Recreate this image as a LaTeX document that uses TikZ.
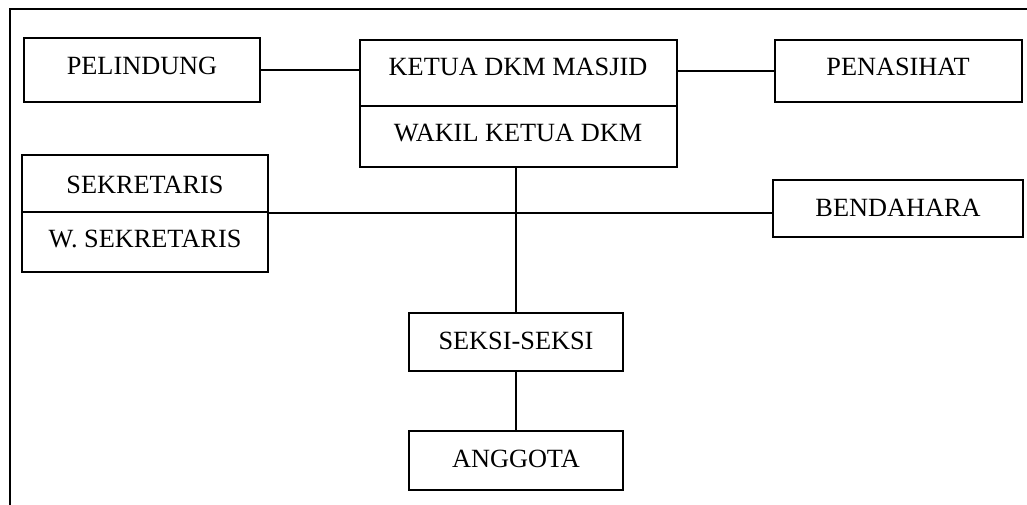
\documentclass[tikz,border=0pt]{standalone}
\usepackage{fontspec}
\setmainfont{Liberation Serif}
\begin{document}
\begin{tikzpicture}[x=1pt,y=-1pt,
  box/.style={draw=black,line width=2pt,rectangle,inner sep=0pt},
  lbl/.style={anchor=base,inner sep=0pt,font=\fontsize{26.3}{30}\selectfont},
  conn/.style={draw=black,line width=1.7pt}]
\useasboundingbox (0,0) rectangle (1027,505);
% frame
\coordinate (fb) at (9.5,505);
\coordinate (fc) at (9.5,9.5);
\coordinate (fr) at (1027,9.5);
\draw[line width=2pt] (fb) -- (fc) -- (fr);
% boxes
\node[box,minimum width=236pt,minimum height=64pt] (pel) at (142,70) {};
\node[box,minimum width=317pt,minimum height=66pt] (ketua) at (518.5,73) {};
\node[box,minimum width=317pt,minimum height=61pt] (wakil) at (518.5,136.5) {};
\node[box,minimum width=247pt,minimum height=62pt] (pen) at (898.5,71) {};
\node[box,minimum width=246pt,minimum height=57pt] (sek) at (145,183.5) {};
\node[box,minimum width=246pt,minimum height=60pt] (wsek) at (145,242) {};
\node[box,minimum width=250pt,minimum height=57pt] (bend) at (898,208.5) {};
\node[box,minimum width=214pt,minimum height=58pt] (seksi) at (516,342) {};
\node[box,minimum width=214pt,minimum height=59pt] (angg) at (516,460.5) {};
% labels
\node[lbl] (tpel) at (142,74.5) {PELINDUNG};
\node[lbl] (tketua) at (518,75.5) {KETUA DKM MASJID};
\node[lbl] (twakil) at (518,141.5) {WAKIL KETUA DKM};
\node[lbl] (tpen) at (898,75.5) {PENASIHAT};
\node[lbl] (tsek) at (145,193.5) {SEKRETARIS};
\node[lbl] (twsek) at (145,247.5) {W. SEKRETARIS};
\node[lbl] (tbend) at (898,216.5) {BENDAHARA};
\node[lbl] (tseksi) at (516,349.5) {SEKSI-SEKSI};
\node[lbl] (tangg) at (516,467.5) {ANGGOTA};
% connectors
\draw[conn] (pel.east) -- (pel.east -| ketua.west);
\draw[conn] (ketua.east |- pen.west) -- (pen.west);
\draw[conn] (sek.south east) -- (sek.south east -| bend.west);
\draw[conn] (seksi.north |- wakil.south) -- (seksi.north);
\draw[conn] (seksi.south) -- (angg.north);
\end{tikzpicture}
\end{document}
